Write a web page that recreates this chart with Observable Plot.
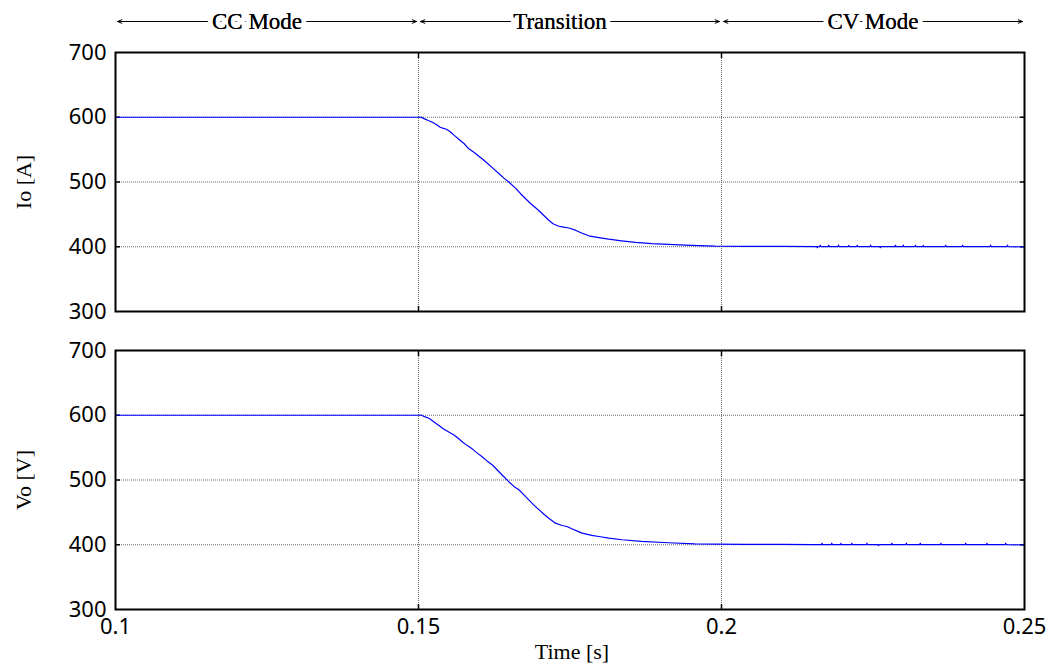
<!DOCTYPE html>
<html>
<head>
<meta charset="utf-8">
<script src="https://cdn.jsdelivr.net/npm/d3@7"></script>
<script src="https://cdn.jsdelivr.net/npm/@observablehq/plot@0.6"></script>
<style>
  html, body { margin: 0; padding: 0; background: #fff; }
  #chart { width: 1051px; height: 668px; overflow: hidden; background: #fff; }
  #chart svg { display: block; overflow: visible; }
</style>
</head>
<body>
<div id="chart"></div>
<script>
// Operating modes of the charger and their time spans (s)
const modeNames = ["CC Mode", "Transition", "CV Mode"];
const modeBounds = [0.1, 0.15, 0.2, 0.25];

// Axis ticks
const timeTicks = [0.1, 0.15, 0.2, 0.25];
const levelTicks = [300, 400, 500, 600, 700];

// Output current Io [A] vs time [s]
const ioTrace = [
  [0.1000, 600.0], [0.1500, 600.0], [0.1504, 600.2], [0.1510, 597.5], [0.1516, 595.0],
  [0.1523, 592.3], [0.1530, 588.5], [0.1535, 585.0], [0.1540, 583.1], [0.1546, 581.5],
  [0.1552, 578.0], [0.1559, 572.0], [0.1566, 566.5], [0.1575, 559.5], [0.1583, 551.3],
  [0.1592, 545.5], [0.1598, 541.0], [0.1605, 535.9], [0.1614, 528.5], [0.1623, 521.0],
  [0.1633, 512.8], [0.1641, 506.0], [0.1649, 500.0], [0.1660, 490.5], [0.1671, 479.5],
  [0.1684, 467.5], [0.1698, 456.4], [0.1706, 449.0], [0.1715, 441.0], [0.1722, 435.5],
  [0.1730, 432.0], [0.1737, 430.8], [0.1748, 429.0], [0.1759, 425.6], [0.1770, 420.8],
  [0.1781, 416.9], [0.1795, 414.6], [0.1814, 411.8], [0.1835, 409.2], [0.1858, 406.7],
  [0.1885, 404.8], [0.1912, 403.6], [0.1950, 402.2], [0.1989, 401.0], [0.2040, 400.6],
  [0.2100, 400.5], [0.2157, 400.3], [0.2158, 398.6], [0.2159, 400.3],
  [0.2162, 400.2], [0.2163, 402.4], [0.2164, 400.2],
  [0.2176, 400.2], [0.2177, 402.2], [0.2178, 400.2],
  [0.2192, 400.2], [0.2193, 402.5], [0.2194, 400.2],
  [0.2209, 400.2], [0.2210, 402.0], [0.2211, 400.2],
  [0.2223, 400.2], [0.2224, 402.3], [0.2225, 400.2],
  [0.2245, 400.2], [0.2246, 402.4], [0.2247, 400.2],
  [0.2261, 400.2], [0.2262, 398.6], [0.2263, 400.2],
  [0.2286, 400.2], [0.2287, 402.2], [0.2288, 400.2],
  [0.2299, 400.2], [0.2300, 402.5], [0.2301, 400.2],
  [0.2319, 400.2], [0.2320, 402.3], [0.2321, 400.2],
  [0.2332, 400.2], [0.2333, 402.1], [0.2334, 400.2],
  [0.2369, 400.2], [0.2370, 402.4], [0.2371, 400.2],
  [0.2397, 400.2], [0.2398, 402.3], [0.2399, 400.2],
  [0.2443, 400.2], [0.2444, 402.4], [0.2445, 400.2],
  [0.2471, 400.2], [0.2472, 402.5], [0.2473, 400.2],
  [0.2500, 399.8]
];

// Output voltage Vo [V] vs time [s]
const voTrace = [
  [0.1000, 600.0], [0.1500, 600.0], [0.1504, 600.3], [0.1510, 597.8], [0.1518, 594.9],
  [0.1523, 591.5], [0.1529, 587.2], [0.1535, 583.5], [0.1542, 578.5], [0.1550, 574.0],
  [0.1559, 569.2], [0.1566, 564.0], [0.1572, 559.0], [0.1580, 553.5], [0.1589, 547.7],
  [0.1597, 541.5], [0.1605, 535.9], [0.1613, 529.5], [0.1622, 523.1], [0.1630, 515.5],
  [0.1638, 507.7], [0.1649, 497.4], [0.1657, 490.5], [0.1666, 484.6], [0.1674, 477.0],
  [0.1682, 469.2], [0.1690, 461.5], [0.1699, 453.8], [0.1707, 447.0], [0.1715, 441.0],
  [0.1726, 433.3], [0.1737, 429.7], [0.1745, 428.2], [0.1753, 424.6], [0.1762, 421.0],
  [0.1770, 417.9], [0.1786, 414.4], [0.1800, 412.4], [0.1814, 410.3], [0.1836, 407.7],
  [0.1868, 405.1], [0.1912, 403.1], [0.1956, 401.5], [0.1989, 401.0], [0.2040, 400.7],
  [0.2100, 400.5], [0.2150, 400.3],
  [0.2165, 400.2], [0.2166, 402.2], [0.2167, 400.2],
  [0.2181, 400.2], [0.2182, 402.4], [0.2183, 400.2],
  [0.2196, 400.2], [0.2197, 402.1], [0.2198, 400.2],
  [0.2214, 400.2], [0.2215, 402.3], [0.2216, 400.2],
  [0.2239, 400.2], [0.2240, 402.4], [0.2241, 400.2],
  [0.2258, 400.2], [0.2259, 398.7], [0.2260, 400.2],
  [0.2280, 400.2], [0.2281, 402.2], [0.2282, 400.2],
  [0.2304, 400.2], [0.2305, 402.5], [0.2306, 400.2],
  [0.2327, 400.2], [0.2328, 402.2], [0.2329, 400.2],
  [0.2361, 400.2], [0.2362, 402.3], [0.2363, 400.2],
  [0.2402, 400.2], [0.2403, 402.4], [0.2404, 400.2],
  [0.2437, 400.2], [0.2438, 402.2], [0.2439, 400.2],
  [0.2468, 400.2], [0.2469, 402.4], [0.2470, 400.2],
  [0.2500, 399.8]
];

const W = 1051, ML = 115, MR = 27;
const sans = "'Noto Sans', 'DejaVu Sans', sans-serif";
const serif = "'Liberation Serif', 'Times New Roman', serif";
const xDomain = [timeTicks[0], timeTicks[timeTicks.length - 1]];
const yDomain = [levelTicks[0], levelTicks[levelTicks.length - 1]];
const innerX = timeTicks.slice(1, -1);
const innerY = levelTicks.slice(1, -1);

const modes = modeNames.map((name, i) => ({
  name,
  start: modeBounds[i],
  end: modeBounds[i + 1],
  mid: (modeBounds[i] + modeBounds[i + 1]) / 2
}));

// Mode banner: double-headed arrows spanning each time interval,
// with the mode name sitting on the arrow (slightly left of centre)
const labelNudge = [-10, -10, 0];
const arrowStyle = {y1: 0.5, y2: 0.5, dy: 4, insetEnd: 2, headLength: 7, headAngle: 45, stroke: "black", strokeWidth: 1};
const labelStyle = {x: "mid", y: 0.5, dy: 4, text: "name", fontFamily: serif, fontSize: 23, fill: "black", lineAnchor: "middle"};
const header = Plot.plot({
  width: W, height: 34, marginLeft: ML, marginRight: MR, marginTop: 0, marginBottom: 0,
  style: {background: "white"},
  x: {domain: xDomain, axis: null},
  y: {domain: [0, 1], axis: null},
  marks: [
    Plot.arrow(modes, {x1: "mid", x2: "start", ...arrowStyle}),
    Plot.arrow(modes, {x1: "mid", x2: "end", ...arrowStyle}),
    // white halo clears the arrow shaft behind each mode name
    ...modes.map((m, i) => Plot.text([m], {
      ...labelStyle, dx: labelNudge[i],
      stroke: "white", strokeWidth: 10, strokeLinejoin: "round", paintOrder: "stroke"
    })),
    ...modes.map((m, i) => Plot.text([m], {...labelStyle, dx: labelNudge[i]}))
  ]
});

function panel(trace, yLabel, {height, marginTop, marginBottom, timeAxis}) {
  const grid = {stroke: "#444", strokeOpacity: 0.8, strokeDasharray: "1,1", strokeWidth: 1};
  const tick = {tickSize: 5, strokeWidth: 1.5, stroke: "black", fill: "none", label: null};
  return Plot.plot({
    width: W, height, marginLeft: ML, marginRight: MR, marginTop, marginBottom,
    style: {fontFamily: sans, background: "white", color: "black"},
    x: {domain: xDomain, axis: null},
    y: {domain: yDomain, axis: null},
    marks: [
      Plot.gridX(innerX, grid),
      Plot.gridY(innerY, grid),
      // inward tick marks on all four sides of the frame
      Plot.axisX(innerX, {anchor: "top", dy: 5, ...tick}),
      Plot.axisX(innerX, {anchor: "bottom", dy: -5, ...tick}),
      Plot.axisY(innerY, {anchor: "left", dx: 5, ...tick}),
      Plot.axisY(innerY, {anchor: "right", dx: -5, ...tick}),
      Plot.axisY(levelTicks, {anchor: "left", tickSize: 0, tickPadding: 9, fontSize: 22, fill: "black", label: null}),
      timeAxis ? Plot.axisX(timeTicks, {anchor: "bottom", tickSize: 0, tickPadding: 9, fontSize: 22, fill: "black", label: null, tickFormat: d => String(d)}) : null,
      Plot.line(trace, {x: d => d[0], y: d => d[1], stroke: "#0000ff", strokeWidth: 1.2}),
      Plot.frame({stroke: "black", strokeWidth: 2}),
      Plot.text([yLabel], {
        text: d => d, frameAnchor: "left", textAnchor: "middle", dx: -92, rotate: -90,
        fontFamily: serif, fontSize: 22, fill: "black", lineAnchor: "middle"
      }),
      timeAxis ? Plot.text(["Time [s]"], {
        text: d => d, frameAnchor: "bottom", dx: 2, dy: 42,
        fontFamily: serif, fontSize: 22, fill: "black", lineAnchor: "middle"
      }) : null
    ]
  });
}

const chart = document.getElementById("chart");
chart.append(header);
chart.append(panel(ioTrace, "Io [A]", {height: 296, marginTop: 18, marginBottom: 19, timeAxis: false}));
chart.append(panel(voTrace, "Vo [V]", {height: 338, marginTop: 20, marginBottom: 59, timeAxis: true}));
</script>
</body>
</html>
